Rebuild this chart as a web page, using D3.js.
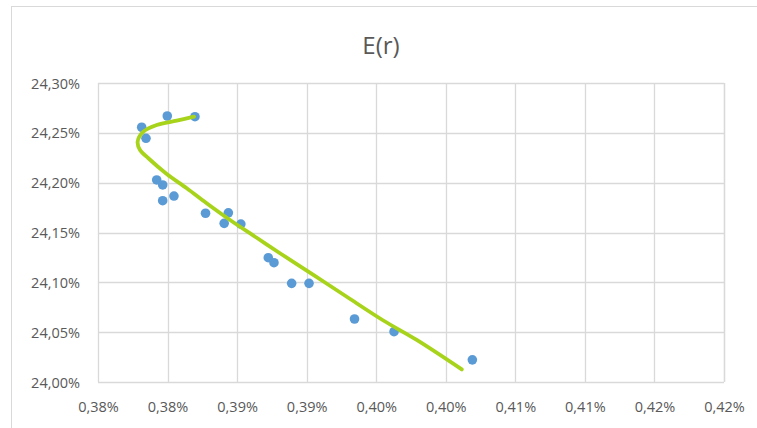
<!DOCTYPE html>
<html>
<head>
<meta charset="utf-8">
<script src="https://cdn.jsdelivr.net/npm/d3@7/dist/d3.min.js"></script>
<style>
  html, body { margin: 0; padding: 0; background: #fff; }
  svg { display: block; }
  text { font-family: "Open Sans", "Noto Sans", sans-serif; fill: #595959; }
</style>
</head>
<body>
<svg id="chart" width="757" height="428"></svg>
<script>
// ---- data (values in percent) ----
const title = "E(r)";
const pointX = [0.37814, 0.37845, 0.37998, 0.38197, 0.37922, 0.37965, 0.37965, 0.38046, 0.38273, 0.38437,
                0.38407, 0.38527, 0.38724, 0.38765, 0.38892, 0.39017, 0.39344, 0.39628, 0.40191];
const pointY = [24.2556, 24.2445, 24.2669, 24.2662, 24.2027, 24.1977, 24.1819, 24.1866, 24.1693, 24.1697,
                24.1592, 24.1585, 24.1247, 24.1197, 24.0990, 24.0990, 24.0632, 24.0505, 24.0222];
const lineX = [0.38190, 0.38066, 0.37922, 0.37826, 0.37785, 0.37802, 0.37862, 0.37994, 0.38138, 0.38281,
               0.38449, 0.38641, 0.38808, 0.39048, 0.39288, 0.39551, 0.39791, 0.40115];
const lineY = [24.2662, 24.2622, 24.2579, 24.2511, 24.2411, 24.2328, 24.2245, 24.2087, 24.1944, 24.1793,
               24.1625, 24.1447, 24.1292, 24.1075, 24.0855, 24.0617, 24.0422, 24.0126];
const xTicks = [0.375, 0.380, 0.385, 0.390, 0.395, 0.400, 0.405, 0.410, 0.415, 0.420];
const xTickLabels = ["0,38%", "0,38%", "0,39%", "0,39%", "0,40%", "0,40%", "0,41%", "0,41%", "0,42%", "0,42%"];
const yTicks = [24.00, 24.05, 24.10, 24.15, 24.20, 24.25, 24.30];
const yTickLabels = ["24,00%", "24,05%", "24,10%", "24,15%", "24,20%", "24,25%", "24,30%"];

// ---- layout ----
const svg = d3.select("#chart");
const plot = { left: 98, right: 724, top: 83, bottom: 382 };
const grid = "#d9d9d9";

// outer chart border
svg.append("rect").attr("x", 11.5).attr("y", 6.5).attr("width", 760).attr("height", 440)
  .attr("fill", "#fff").attr("stroke", grid).attr("stroke-width", 1);

const x = d3.scaleLinear().domain([0.375, 0.420]).range([plot.left, plot.right]);
const y = d3.scaleLinear().domain([24.00, 24.30]).range([plot.bottom, plot.top]);

// gridlines
const g = svg.append("g");
g.selectAll("line.v").data(xTicks).join("line")
  .attr("x1", d => Math.round(x(d)) + 0.5).attr("x2", d => Math.round(x(d)) + 0.5)
  .attr("y1", plot.top).attr("y2", plot.bottom)
  .attr("stroke", grid).attr("stroke-width", 1.3);
g.append("line").attr("x1", plot.right + 0.5).attr("x2", plot.right + 0.5)
  .attr("y1", plot.top).attr("y2", plot.bottom).attr("stroke", grid).attr("stroke-width", 1.3);
g.selectAll("line.h").data(yTicks).join("line")
  .attr("x1", plot.left).attr("x2", plot.right)
  .attr("y1", d => Math.round(y(d)) + 0.5).attr("y2", d => Math.round(y(d)) + 0.5)
  .attr("stroke", grid).attr("stroke-width", 1.3);

// axes labels via d3 axes
const xAxis = d3.axisBottom(x).tickValues(xTicks)
  .tickFormat((d, i) => xTickLabels[i]).tickSize(0).tickPadding(0);
const xg = svg.append("g").attr("transform", `translate(0,${plot.bottom})`).call(xAxis);
xg.select(".domain").remove();
xg.selectAll("text").attr("dy", null).attr("y", 30).style("font-size", "14.5px")
  .style("font-family", "'Open Sans', sans-serif").attr("fill", "#595959");

const yAxis = d3.axisLeft(y).tickValues(yTicks)
  .tickFormat((d, i) => yTickLabels[i]).tickSize(0).tickPadding(0);
const yg = svg.append("g").attr("transform", `translate(80,0)`).call(yAxis);
yg.select(".domain").remove();
yg.selectAll("text").attr("dy", "0.35em").attr("x", 0).style("font-size", "14.5px")
  .style("font-family", "'Open Sans', sans-serif").attr("fill", "#595959");

// title
svg.append("text").attr("x", 381).attr("y", 54).attr("text-anchor", "middle")
  .style("font-size", "24px").text(title);

// points
const pts = pointX.map((v, i) => [v, pointY[i]]);
svg.append("g").selectAll("circle").data(pts).join("circle")
  .attr("cx", d => x(d[0])).attr("cy", d => y(d[1])).attr("r", 4.8)
  .attr("fill", "#5b9bd5");

// smoothed line
const linePts = lineX.map((v, i) => [v, lineY[i]]);
svg.append("path").datum(linePts)
  .attr("d", d3.line().x(d => x(d[0])).y(d => y(d[1])).curve(d3.curveCatmullRom.alpha(0.5)))
  .attr("fill", "none").attr("stroke", "#a7d31b").attr("stroke-width", 3.8)
  .attr("stroke-linecap", "round").attr("stroke-linejoin", "round");
</script>
</body>
</html>
